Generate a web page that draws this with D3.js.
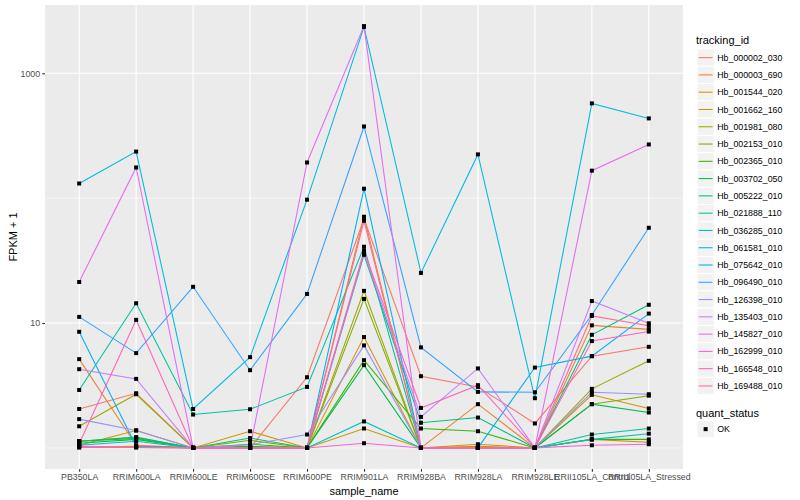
<!DOCTYPE html>
<html>
<head>
<meta charset="utf-8">
<script src="https://cdn.jsdelivr.net/npm/d3@7"></script>
<style>
    body { margin: 0; background: #fff; }
    text { font-family: "Liberation Sans", Arial, sans-serif; }
</style>
</head>
<body>
<div id="chart"></div>
<script>
const samples = ["PB350LA", "RRIM600LA", "RRIM600LE", "RRIM600SE", "RRIM600PE", "RRIM901LA",
    "RRIM928BA", "RRIM928LA", "RRIM928LE", "RRII105LA_Control", "RRII105LA_Stressed"]

const trackingIds = ["Hb_000002_030", "Hb_000003_690", "Hb_001544_020", "Hb_001662_160", "Hb_001981_080",
    "Hb_002153_010", "Hb_002365_010", "Hb_003702_050", "Hb_005222_010", "Hb_021888_110",
    "Hb_036285_010", "Hb_061581_010", "Hb_075642_010", "Hb_096490_010", "Hb_126398_010",
    "Hb_135403_010", "Hb_145827_010", "Hb_162999_010", "Hb_166548_010", "Hb_169488_010"]

// FPKM + 1, one row per tracking_id, one column per sample
const fpkmPlus1 = [
    [2.05, 2.74, 1, 1, 3.68, 68.4, 3.75, 3.08, 1.57, 5.43, 6.45],
    [5.14, 1.05, 1, 1, 1, 71.0, 1, 2.24, 1, 9.58, 8.90],
    [1.05, 1.38, 1, 1.36, 1, 7.72, 1, 1.07, 1, 2.66, 2.07],
    [1.01, 1.03, 1, 1, 1, 1.43, 1, 1.03, 1, 1.17, 1.11],
    [1.49, 2.69, 1, 1, 1, 18.1, 1, 1, 1, 2.97, 4.98],
    [1.13, 1.21, 1, 1.15, 1, 15.6, 1, 1, 1, 2.24, 2.62],
    [1.13, 1.19, 1, 1.07, 1, 5.04, 1.43, 1.36, 1, 1.17, 1.17],
    [1.09, 1.17, 1, 1.03, 1, 4.60, 1, 1, 1, 2.24, 1.92],
    [1.13, 1.22, 1, 1.20, 1, 35.2, 1.59, 1.75, 1, 8.05, 14.0],
    [2.91, 14.4, 1.85, 2.04, 3.08, 40.8, 1, 1, 1, 1.28, 1.43],
    [1.05, 1.13, 1, 1, 1, 1.63, 1, 1, 1, 1.17, 1.30],
    [131, 236, 2.05, 5.33, 97.2, 2350, 25.2, 224, 2.50, 574, 435],
    [8.51, 1.03, 1, 1, 1, 119, 1, 1, 4.40, 5.43, 11.9],
    [11.2, 5.74, 19.5, 4.19, 17.1, 375, 6.38, 2.81, 2.79, 11.6, 57.9],
    [1.70, 1.38, 1, 1.06, 1.28, 6.62, 1, 1, 1, 2.79, 2.69],
    [4.27, 3.57, 1, 1, 1, 36.5, 1.77, 4.33, 1, 15.0, 9.95],
    [21.3, 176, 1, 1, 193, 2386, 1, 1, 1, 166, 269],
    [1.01, 1.01, 1, 1, 1, 1.09, 1, 1, 1, 1.05, 1.07],
    [1.08, 10.6, 1, 1, 1, 37.9, 2.09, 3.18, 1, 7.17, 8.54],
    [1.03, 1.01, 1, 1, 1, 65.9, 1, 1, 1, 11.4, 9.51]
]

const yTicks = [10, 1000]
const yMinorTicks = [1, 100]
const quantStatus = ["OK"]

const hueColors = ["#F8766D", "#EA8331", "#D89000", "#C09B00", "#A3A500", "#7CAE00", "#39B600", "#00BB4E",
    "#00BF7D", "#00C1A3", "#00BFC4", "#00BAE0", "#00B0F6", "#35A2FF", "#9590FF", "#C77CFF",
    "#E76BF3", "#FA62DB", "#FF62BC", "#FF6A98"]

drawChart()
function drawChart() {
    const W = 800, H = 500
    const margin = { top: 5, right: 117, bottom: 31, left: 45 },
        width = W - margin.left - margin.right,
        height = H - margin.top - margin.bottom

    const svg = d3.select("#chart").append("svg")
        .attr("width", W)
        .attr("height", H)
    const chart = svg.append("g")
        .attr("transform", `translate(${margin.left},${margin.top})`)

    const series = trackingIds.map((id, i) => ({
        id: id,
        values: samples.map((s, j) => ({ sample: s, value: fpkmPlus1[i][j] }))
    }))

    const color = d3.scaleOrdinal().domain(trackingIds).range(hueColors)

    const xScale = d3.scalePoint()
        .domain(samples)
        .range([0, width])
        .padding(0.6)

    // log10 range expanded 5% each side like ggplot
    const allVals = fpkmPlus1.flat()
    const lo = Math.log10(d3.min(allVals)), hi = Math.log10(d3.max(allVals))
    const pad = (hi - lo) * 0.05
    const yScale = d3.scaleLog()
        .domain([Math.pow(10, lo - pad), Math.pow(10, hi + pad)])
        .range([height, 0])

    // panel
    chart.append("rect")
        .attr("width", width)
        .attr("height", height)
        .attr("fill", "#EBEBEB")

    //Draw grid
    chart.append("g")
        .selectAll("line")
        .data(yMinorTicks)
        .enter().append("line")
        .attr("x1", 0).attr("x2", width)
        .attr("y1", d => yScale(d)).attr("y2", d => yScale(d))
        .attr("stroke", "#fff").attr("stroke-width", 0.55)
    chart.append("g")
        .selectAll("line")
        .data(yTicks)
        .enter().append("line")
        .attr("x1", 0).attr("x2", width)
        .attr("y1", d => yScale(d)).attr("y2", d => yScale(d))
        .attr("stroke", "#fff").attr("stroke-width", 1.1)
    chart.append("g")
        .selectAll("line")
        .data(samples)
        .enter().append("line")
        .attr("y1", 0).attr("y2", height)
        .attr("x1", d => xScale(d)).attr("x2", d => xScale(d))
        .attr("stroke", "#fff").attr("stroke-width", 1.1)
    //End Draw grid

    // axes
    const yAxis = chart.append("g")
        .call(d3.axisLeft(yScale).tickValues(yTicks).tickFormat(d3.format("d")).tickSize(2.75).tickPadding(2.2))
    const xAxis = chart.append("g")
        .attr("transform", `translate(0,${height})`)
        .call(d3.axisBottom(xScale).tickSize(2.75).tickPadding(2.2))
    for (const ax of [yAxis, xAxis]) {
        ax.select(".domain").remove()
        ax.selectAll(".tick line").attr("stroke", "#333333").attr("stroke-width", 1.1)
        ax.selectAll(".tick text").attr("fill", "#4D4D4D").style("font-size", "8.8px")
            .style("font-family", "Liberation Sans, Arial, sans-serif")
    }

    // lines
    const line = d3.line()
        .x(d => xScale(d.sample))
        .y(d => yScale(d.value))
    chart.append("g")
        .selectAll("path")
        .data(series)
        .enter().append("path")
        .attr("d", d => line(d.values))
        .attr("fill", "none")
        .attr("stroke", d => color(d.id))
        .attr("stroke-width", 1.07)

    // points
    chart.append("g")
        .selectAll("g")
        .data(series)
        .enter().append("g")
        .selectAll("rect")
        .data(d => d.values)
        .enter().append("rect")
        .attr("x", d => xScale(d.sample) - 2)
        .attr("y", d => yScale(d.value) - 2)
        .attr("width", 4)
        .attr("height", 4)
        .attr("fill", "#000")

    //x Axis Title
    svg.append("text")
        .attr("x", margin.left + width / 2)
        .attr("y", 495)
        .attr("text-anchor", "middle")
        .style("font-size", "11px")
        .text("sample_name")

    //y Axis Title
    svg.append("text")
        .attr("transform", `translate(16.5,${margin.top + height / 2}) rotate(-90)`)
        .attr("text-anchor", "middle")
        .style("font-size", "11px")
        .text("FPKM + 1")

    // legend: tracking_id
    const lx = 697, key = 17.28, ly = 49
    const legend = svg.append("g")
    legend.append("text")
        .attr("x", 696).attr("y", 44)
        .style("font-size", "11px")
        .text("tracking_id")
    const items = legend.selectAll("g.item")
        .data(trackingIds)
        .enter().append("g")
        .attr("class", "item")
        .attr("transform", (d, i) => `translate(${lx},${ly + i * key})`)
    items.append("rect")
        .attr("width", key).attr("height", key)
        .attr("fill", "#F2F2F2").attr("stroke", "#fff").attr("stroke-width", 1)
    items.append("line")
        .attr("x1", 1.7).attr("x2", key - 1.7)
        .attr("y1", key / 2).attr("y2", key / 2)
        .attr("stroke", d => color(d)).attr("stroke-width", 1.07)
    items.append("text")
        .attr("x", key + 3).attr("y", key / 2)
        .attr("dy", "0.35em")
        .style("font-size", "8.8px")
        .text(d => d)

    // legend: quant_status
    const qy = 420.5
    legend.append("text")
        .attr("x", 696).attr("y", 416.5)
        .style("font-size", "11px")
        .text("quant_status")
    const qItems = legend.selectAll("g.q")
        .data(quantStatus)
        .enter().append("g")
        .attr("class", "q")
        .attr("transform", (d, i) => `translate(${lx},${qy + i * key})`)
    qItems.append("rect")
        .attr("width", key).attr("height", key)
        .attr("fill", "#F2F2F2").attr("stroke", "#fff").attr("stroke-width", 1)
    qItems.append("rect")
        .attr("x", key / 2 - 2).attr("y", key / 2 - 2)
        .attr("width", 4).attr("height", 4)
        .attr("fill", "#000")
    qItems.append("text")
        .attr("x", key + 3).attr("y", key / 2)
        .attr("dy", "0.35em")
        .style("font-size", "8.8px")
        .text(d => d)
}
</script>
</body>
</html>
